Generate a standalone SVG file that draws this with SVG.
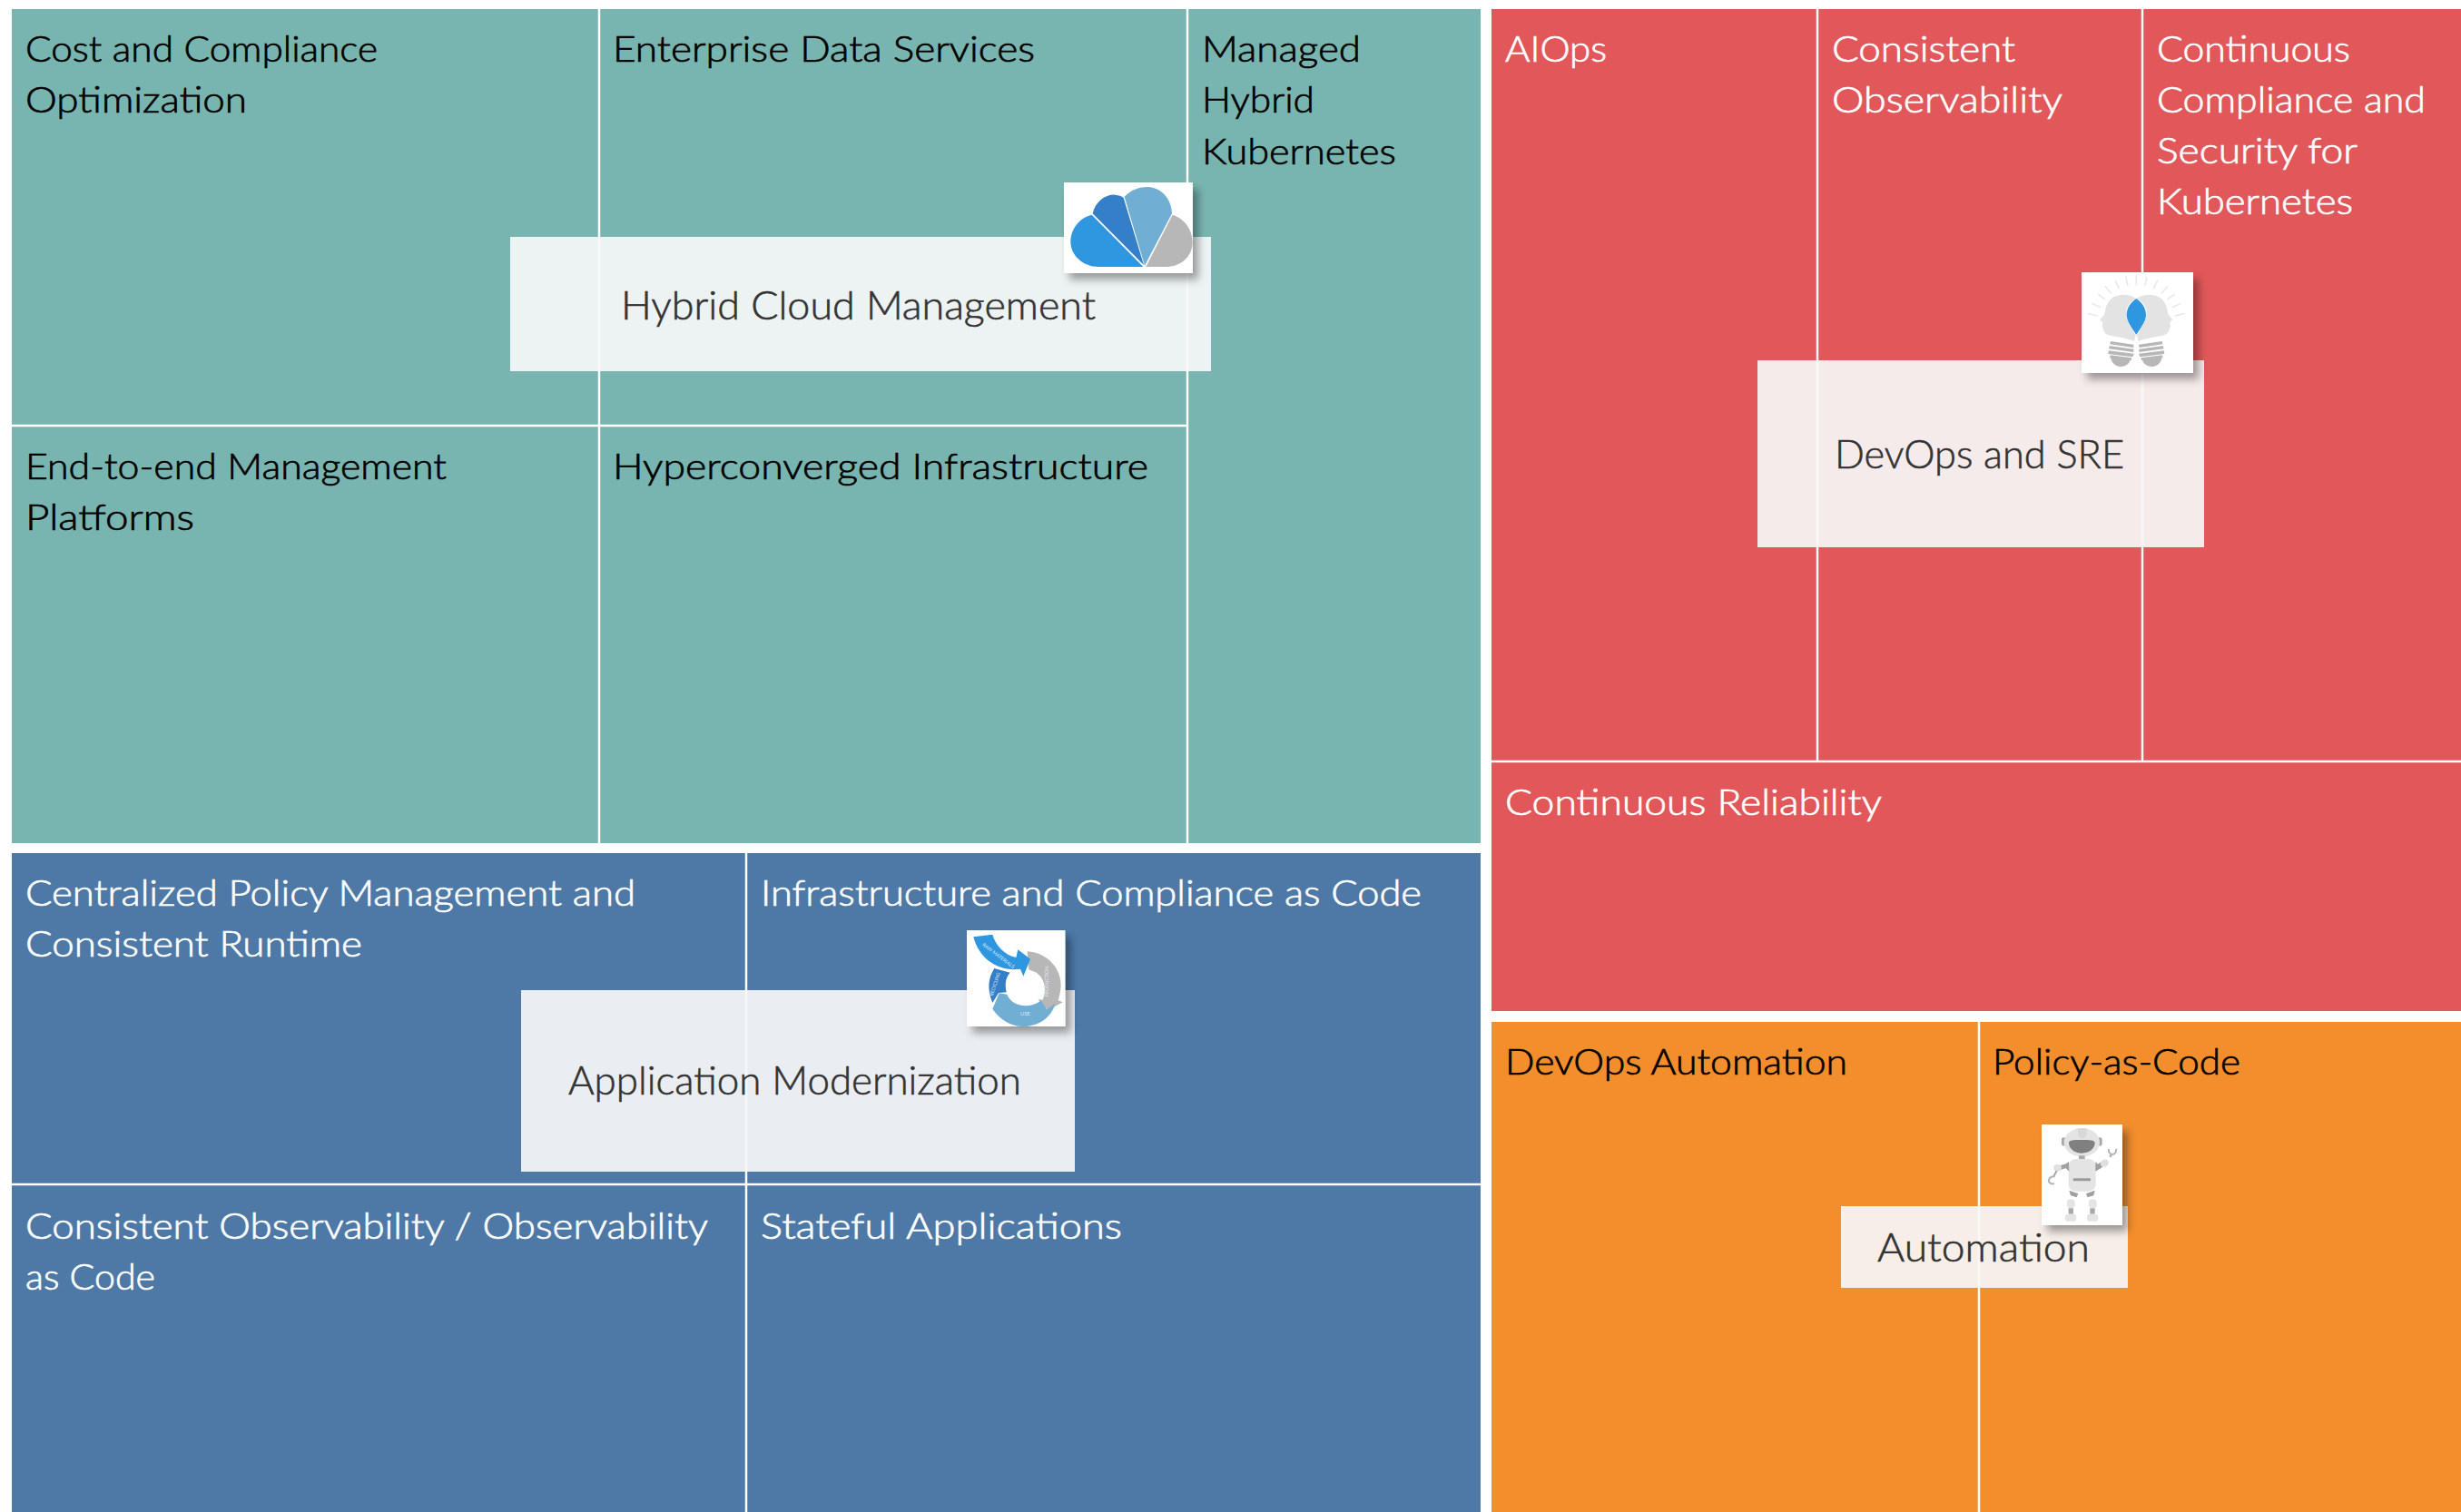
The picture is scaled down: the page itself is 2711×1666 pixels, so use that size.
<svg xmlns="http://www.w3.org/2000/svg" width="2711" height="1666" viewBox="0 0 2711 1666">
<defs>
<filter id="sh" x="-20%" y="-20%" width="150%" height="150%"><feDropShadow dx="6" dy="7" stdDeviation="5" flood-color="#000" flood-opacity="0.36"/></filter>
</defs>
<style>
text{font-family:"Lato","Open Sans","Liberation Sans",sans-serif}
.t{font-size:40px;font-weight:300;stroke-width:.7}
.k{fill:#000;stroke:#000}
.w{fill:#fff;stroke:#fff}
.c{font-size:43px;fill:#333;stroke:#333;stroke-width:.6;font-weight:300}
.g{stroke:#fff;stroke-width:2.5;fill:none}
.o{fill:#f7f7f7;fill-opacity:.92}
.b{fill:#fff}
.mini{font-size:16px;fill:#dfeaf4}
.ray{stroke:#e6e6e6;stroke-width:4;fill:none}
</style>
<rect width="2711" height="1666" fill="#fff"/>
<g id="panel-hybrid">
<rect x="13" y="10" width="1618" height="919" fill="#79b5b0"/>
<path class="g" d="M660 10V929M1308 10V929M13 469H1308"/>
<text class="t k" x="28" y="68" textLength="388" lengthAdjust="spacingAndGlyphs">Cost and Compliance</text>
<text class="t k" x="28" y="124" textLength="244" lengthAdjust="spacingAndGlyphs">Optimization</text>
<text class="t k" x="675" y="68" textLength="465" lengthAdjust="spacingAndGlyphs">Enterprise Data Services</text>
<text class="t k" x="1324" y="68" textLength="175" lengthAdjust="spacingAndGlyphs">Managed</text>
<text class="t k" x="1324" y="124" textLength="124" lengthAdjust="spacingAndGlyphs">Hybrid</text>
<text class="t k" x="1324" y="181" textLength="214" lengthAdjust="spacingAndGlyphs">Kubernetes</text>
<text class="t k" x="28" y="528" textLength="464" lengthAdjust="spacingAndGlyphs">End-to-end Management</text>
<text class="t k" x="28" y="584" textLength="186" lengthAdjust="spacingAndGlyphs">Platforms</text>
<text class="t k" x="675" y="528" textLength="590" lengthAdjust="spacingAndGlyphs">Hyperconverged Infrastructure</text>
</g>
<g id="panel-devops">
<rect x="1643" y="10" width="1068" height="1104" fill="#e1575a"/>
<path class="g" d="M2002 10V839M2360 10V839M1643 839H2711"/>
<text class="t w" x="1658" y="68" textLength="112" lengthAdjust="spacingAndGlyphs">AIOps</text>
<text class="t w" x="2018" y="68" textLength="202" lengthAdjust="spacingAndGlyphs">Consistent</text>
<text class="t w" x="2018" y="124" textLength="254" lengthAdjust="spacingAndGlyphs">Observability</text>
<text class="t w" x="2376" y="68" textLength="213" lengthAdjust="spacingAndGlyphs">Continuous</text>
<text class="t w" x="2376" y="124" textLength="296" lengthAdjust="spacingAndGlyphs">Compliance and</text>
<text class="t w" x="2376" y="180" textLength="221" lengthAdjust="spacingAndGlyphs">Security for</text>
<text class="t w" x="2376" y="236" textLength="216" lengthAdjust="spacingAndGlyphs">Kubernetes</text>
<text class="t w" x="1658" y="898" textLength="415" lengthAdjust="spacingAndGlyphs">Continuous Reliability</text>
</g>
<g id="panel-appmod">
<rect x="13" y="940" width="1618" height="726" fill="#4e79a7"/>
<path class="g" d="M822 940V1666M13 1305H1631"/>
<text class="t w" x="28" y="998" textLength="672" lengthAdjust="spacingAndGlyphs">Centralized Policy Management and</text>
<text class="t w" x="28" y="1054" textLength="371" lengthAdjust="spacingAndGlyphs">Consistent Runtime</text>
<text class="t w" x="838" y="998" textLength="728" lengthAdjust="spacingAndGlyphs">Infrastructure and Compliance as Code</text>
<text class="t w" x="28" y="1365" textLength="752" lengthAdjust="spacingAndGlyphs">Consistent Observability / Observability</text>
<text class="t w" x="28" y="1421" textLength="143" lengthAdjust="spacingAndGlyphs">as Code</text>
<text class="t w" x="838" y="1365" textLength="398" lengthAdjust="spacingAndGlyphs">Stateful Applications</text>
</g>
<g id="panel-automation">
<rect x="1643" y="1126" width="1068" height="540" fill="#f38e2c"/>
<path class="g" d="M2180 1126V1666"/>
<text class="t k" x="1658" y="1184" textLength="377" lengthAdjust="spacingAndGlyphs">DevOps Automation</text>
<text class="t k" x="2195" y="1184" textLength="273" lengthAdjust="spacingAndGlyphs">Policy-as-Code</text>
</g>
<g id="overlay-hybrid">
<rect class="o" x="562" y="261" width="772" height="148"/>
<text class="c" x="684" y="352" textLength="523" lengthAdjust="spacingAndGlyphs">Hybrid Cloud Management</text>
<rect class="b" x="1172" y="201" width="142" height="100" filter="url(#sh)"/>
<g transform="translate(1060 190) scale(.3333)">
<path fill="#2f96e0" d="M598 312L428 140C385 150 358 190 358 228C358 275 400 312 450 312Z"/>
<path fill="#357fc8" d="M600 306L431 136C440 95 475 72 505 74C518 75 526 78 533 84Z"/>
<path fill="#70aed4" d="M603 308L536 80C560 55 590 47 615 48C665 52 692 95 693 136Z"/>
<path fill="#b7b7b7" d="M607 312L695 140C735 152 761 190 761 232C761 275 725 312 675 312Z"/>
</g>
</g>
<g id="overlay-devops">
<rect class="o" x="1936" y="397" width="492" height="206"/>
<text class="c" x="2021" y="516" textLength="319" lengthAdjust="spacingAndGlyphs">DevOps and SRE</text>
<rect class="b" x="2293" y="300" width="123" height="111" filter="url(#sh)"/>
<g transform="translate(2280 290) scale(.3333)">
<path class="ray" d="M220 40V72M185 44L192 75M150 57L163 84M117 76L138 101M93 102L118 120M73 133L102 146M60 166L92 174M255 44L248 75M290 57L277 84M323 76L302 101M347 102L322 120M367 133L338 146M380 166L348 174"/>
<path fill="#e3e3e3" d="M218 116C195 100 150 98 130 125C117 142 118 160 114 170L100 186L109 196L107 208L112 222C115 236 130 238 138 240C170 246 195 250 213 258L218 240C205 210 180 190 188 150C193 135 205 124 218 116Z"/>
<path fill="#e3e3e3" d="M222 116C245 100 290 98 310 125C323 142 322 160 326 170L340 186L331 196L333 208L328 222C325 236 310 238 302 240C270 246 245 250 227 258L222 240C235 210 260 190 252 150C247 135 235 124 222 116Z"/>
<path fill="#2f96e0" d="M220 117C240 130 252 150 252 170C252 195 232 215 220 237C208 215 188 195 188 170C188 150 200 130 220 117Z"/>
<g fill="#b7b7b7">
<path d="M135 258L212 269L210 279L133 268ZM132 273L212 284L210 294L129 283ZM129 289L212 299L208 310L127 300ZM134 304L205 313L203 321L132 313Z"/>
<path d="M305 258L228 269L230 279L307 268ZM308 273L228 284L230 294L311 283ZM311 289L228 299L232 310L313 300ZM306 304L235 313L237 321L308 313Z"/>
<path d="M136 310L200 319C198 335 180 342 168 342C150 342 136 328 136 310Z"/>
<path d="M304 310L240 319C242 335 260 342 272 342C290 342 304 328 304 310Z"/>
</g>
</g>
</g>
<g id="overlay-appmod">
<rect class="o" x="574" y="1091" width="610" height="200"/>
<text class="c" x="626" y="1206" textLength="499" lengthAdjust="spacingAndGlyphs">Application Modernization</text>
<rect class="b" x="1065" y="1025" width="108.500" height="106" filter="url(#sh)"/>
<g transform="translate(1050 1015) scale(.3333)">
<path fill="#b7b7b7" d="M245 100C315 105 358 160 356 215C355 235 350 250 347 262L362 268L314 294L280 258L296 260C312 225 300 175 262 165L250 160Z"/>
<path fill="#70aed4" d="M130 290L152 238L178 242C195 285 260 290 290 262L310 292L337 272C325 320 280 348 230 348C190 347 155 325 130 290Z"/>
<path fill="#357fc8" d="M136 156L188 170C170 190 172 215 176 235L150 237L130 270C112 225 115 190 136 156Z"/>
<path fill="#2f96e0" d="M67 52L130 44C140 80 170 112 208 120L214 94L255 125L232 182L222 158C150 168 85 125 67 52Z"/>
<text class="mini" transform="translate(95 80) rotate(37)" textLength="128" lengthAdjust="spacingAndGlyphs">RAW MATERIALS</text>
<text class="mini" transform="translate(131 248) rotate(-72)" textLength="80" lengthAdjust="spacingAndGlyphs">RECYCLING</text>
<text class="mini" fill="#eee" transform="translate(316 250) rotate(-90)" textLength="100" lengthAdjust="spacingAndGlyphs">PRODUCTION</text>
<text class="mini" x="222" y="312" textLength="32" lengthAdjust="spacingAndGlyphs">USE</text>
</g>
</g>
<g id="overlay-automation">
<rect class="o" x="2028" y="1329" width="316" height="90"/>
<text class="c" x="2068" y="1390" textLength="234" lengthAdjust="spacingAndGlyphs">Automation</text>
<rect class="b" x="2249" y="1239" width="89" height="111" filter="url(#sh)"/>
<g transform="translate(2235 1230) scale(.3333)">
<rect x="108" y="70" width="14" height="28" rx="7" fill="#a8a8a8"/>
<rect x="228" y="70" width="14" height="28" rx="7" fill="#a8a8a8"/>
<ellipse cx="175" cy="86" rx="59" ry="47" fill="#e4e4e4"/>
<path fill="#d8d8d8" d="M162 40V58C162 78 190 78 190 58V40Z"/>
<path fill="#808080" d="M132 88C132 78 150 78 175 78C200 78 218 78 218 88C218 108 198 122 175 122C152 122 132 108 132 88Z"/>
<rect x="165" y="130" width="20" height="11" fill="#a8a8a8"/>
<rect x="131" y="141" width="90" height="107" rx="24" fill="#e4e4e4"/>
<rect x="146" y="205" width="58" height="9" rx="3" fill="#9a9a9a"/>
<path fill="#a0a0a0" d="M132 150L120 158L104 162L106 176L122 172L133 182ZM220 150V182L240 170L248 162L240 150L228 158Z"/>
<ellipse cx="95" cy="170" rx="13" ry="11" fill="#dfdfdf"/>
<ellipse cx="250" cy="155" rx="14" ry="12" fill="#dfdfdf" transform="rotate(-30 250 155)"/>
<path stroke="#a8a8a8" stroke-width="6" fill="none" d="M92 180L82 198M268 135L273 126"/>
<path stroke="#b4b4b4" stroke-width="6" fill="none" d="M86 199C70 197 62 210 67 218C70 222 78 224 84 222"/>
<path stroke="#b4b4b4" stroke-width="6" fill="none" d="M264 108C262 118 268 126 276 126C284 126 290 118 288 108"/>
<path fill="#a0a0a0" d="M133 245L163 256L158 268L138 262ZM218 245L189 256L194 268L214 262Z"/>
<rect x="126" y="274" width="26" height="30" rx="11" fill="#e4e4e4"/>
<rect x="198" y="274" width="26" height="30" rx="11" fill="#e4e4e4"/>
<rect x="131" y="304" width="16" height="19" fill="#a8a8a8"/>
<rect x="202" y="304" width="16" height="19" fill="#a8a8a8"/>
<rect x="120" y="323" width="37" height="24" rx="9" fill="#e4e4e4"/>
<rect x="192" y="323" width="37" height="24" rx="9" fill="#e4e4e4"/>
</g>
</g>
</svg>
